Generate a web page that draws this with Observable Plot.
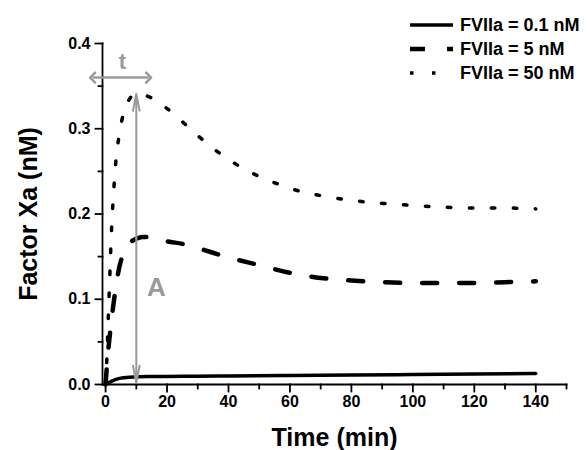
<!DOCTYPE html>
<html>
<head>
<meta charset="utf-8">
<script src="https://cdn.jsdelivr.net/npm/d3@7"></script>
<script src="https://cdn.jsdelivr.net/npm/@observablehq/plot@0.6"></script>
<style>
  body { margin: 0; }
  #wrap { position: relative; width: 587px; font-family: "Liberation Sans", Arial, sans-serif; }
  #legend { position: absolute; left: 408px; top: 13px; }
  .row { display: flex; align-items: center; height: 24px; }
  .row span { font-weight: bold; font-size: 18px; margin-left: 7px; color: #000; white-space: nowrap; }
</style>
</head>
<body>
<div id="wrap"></div>
<script>
// ---- data ----
const seriesNames = ["FVIIa = 0.1 nM", "FVIIa = 5 nM", "FVIIa = 50 nM"];

const time01 = [0, 1, 2, 3, 4, 5, 6, 8, 10, 15, 20, 30, 40, 60, 80, 100, 120, 140];
const fxa01  = [0, 0.002, 0.004, 0.0055, 0.0066, 0.0075, 0.008, 0.0086, 0.009, 0.0093, 0.0095, 0.0098, 0.010, 0.0105, 0.011, 0.0117, 0.0123, 0.0129];

const time5 = [0, 0.5, 1, 1.5, 2, 2.6, 3.5, 4.5, 5.5, 7, 8.5, 10, 12, 14, 17, 20, 25, 30, 40, 50, 60, 70, 80, 90, 100, 110, 120, 130, 140];
const fxa5  = [0, 0.025, 0.045, 0.062, 0.078, 0.095, 0.118, 0.138, 0.151, 0.162, 0.168, 0.171, 0.173, 0.173, 0.171, 0.168, 0.165, 0.160, 0.149, 0.140, 0.131, 0.125, 0.122, 0.120, 0.119, 0.119, 0.119, 0.120, 0.121];

const time50 = [0, 0.3, 0.6, 0.9, 1.2, 1.5, 1.8, 2.2, 2.7, 3.3, 4.2, 5.3, 6.5, 8, 10, 12, 15, 18, 22, 26, 30, 35, 40, 45, 50, 57, 64, 71, 78, 85, 92, 100, 110, 120, 130, 140];
const fxa50  = [0, 0.02, 0.05, 0.08, 0.11, 0.14, 0.17, 0.2, 0.23, 0.26, 0.287, 0.31, 0.325, 0.336, 0.341, 0.340, 0.336, 0.329, 0.318, 0.305, 0.292, 0.277, 0.264, 0.253, 0.244, 0.234, 0.226, 0.221, 0.217, 0.214, 0.212, 0.210, 0.208, 0.207, 0.207, 0.206];

const xMajorTicks = [0, 20, 40, 60, 80, 100, 120, 140];
const xMinorTicks = [10, 30, 50, 70, 90, 110, 130, 150];
const yMajorTicks = [0, 0.1, 0.2, 0.3, 0.4];
const yMinorTicks = [0.05, 0.15, 0.25, 0.35];

// annotations: time-to-peak "t" and amplitude "A"
const peakTime = [10];
const peakAmp = [0.341];
const ampBase = [0.002];
const tArrowFrom = [-4.2], tArrowTo = [14], tArrowLevel = [0.36];
const annoLabels = ["t", "A"];
const annoLabelX = [5.5, 16.5];
const annoLabelY = [0.378, 0.114];

// ---- layout ----
const W = 587, H = 450, mL = 102, mR = 21, mT = 43, mB = 66;
const xDomain = [-1, 150], yDomain = [0, 0.4];
const kx = (W - mL - mR) / (xDomain[1] - xDomain[0]);   // px per minute
const ky = (H - mT - mB) / (yDomain[1] - yDomain[0]);   // px per nM
const majorLen = 7, minorLen = 4;
const axisX0 = xDomain[0], axisY0 = yDomain[0];

// ---- build tables ----
const toRows = (ts, vs) => ts.map((t, i) => ({t, v: vs[i]}));
const s01 = toRows(time01, fxa01);
const s5 = toRows(time5, fxa5);
const s50 = toRows(time50, fxa50);
const gray = "#9a9a9a";

const styles = [
  {strokeWidth: 3.5, strokeDasharray: "none"},
  {strokeWidth: 4.5, strokeDasharray: "15,22"},
  {strokeWidth: 3.5, strokeDasharray: "3.5,18.5"}
];

const vArrow = peakTime.map((t, i) => ({t, top: peakAmp[i], bot: ampBase[i], mid: (peakAmp[i] + ampBase[i]) / 2}));
const hArrow = tArrowFrom.map((a, i) => ({x1: a, x2: tArrowTo[i], y: tArrowLevel[i]}));
const labels = annoLabels.map((s, i) => ({s, x: annoLabelX[i], y: annoLabelY[i]}));

// axis frame + tick segments as two-point polylines (keyed by k)
const segs = [];
const addSeg = (k, x1, y1, x2, y2) => { segs.push({k, x: x1, y: y1}, {k, x: x2, y: y2}); };
addSeg("xaxis", xDomain[0], axisY0, xDomain[1], axisY0);
addSeg("yaxis", axisX0, yDomain[0], axisX0, yDomain[1]);
xMajorTicks.forEach((x) => addSeg("xM" + x, x, axisY0, x, axisY0 - majorLen / ky));
xMinorTicks.forEach((x) => addSeg("xm" + x, x, axisY0, x, axisY0 - minorLen / ky));
yMajorTicks.forEach((y) => addSeg("yM" + y, axisX0, y, axisX0 - majorLen / kx, y));
yMinorTicks.forEach((y) => addSeg("ym" + y, axisX0, y, axisX0 - minorLen / kx, y));

const chart = Plot.plot({
  width: W,
  height: H,
  marginLeft: mL,
  marginRight: mR,
  marginTop: mT,
  marginBottom: mB,
  style: {fontFamily: "Liberation Sans, Arial, sans-serif"},
  x: {domain: xDomain, axis: null},
  y: {domain: yDomain, axis: null},
  marks: [
    // curves
    Plot.line(s01, {x: "t", y: "v", stroke: "#000", curve: "monotone-x", ...styles[0]}),
    Plot.line(s5, {x: "t", y: "v", stroke: "#000", curve: "monotone-x", ...styles[1]}),
    Plot.line(s50, {x: "t", y: "v", stroke: "#000", curve: "monotone-x", ...styles[2]}),
    // axis lines and ticks
    Plot.line(segs, {x: "x", y: "y", z: "k", stroke: "#000", strokeWidth: 1.8, strokeLinecap: "square"}),
    // annotations
    Plot.arrow(vArrow, {x1: "t", x2: "t", y1: "mid", y2: "top", stroke: gray, strokeWidth: 2, headLength: 13, headAngle: 22}),
    Plot.arrow(vArrow, {x1: "t", x2: "t", y1: "mid", y2: "bot", stroke: gray, strokeWidth: 2, headLength: 13, headAngle: 22}),
    Plot.link(hArrow, {x1: "x1", x2: "x2", y1: "y", y2: "y", stroke: gray, strokeWidth: 2.5, markerStart: "arrow-reverse", markerEnd: "arrow-reverse"}),
    Plot.text(labels, {x: "x", y: "y", text: "s", fill: gray, fontWeight: "bold", fontSize: (d) => d.s === "A" ? 26 : 22}),
    // tick labels
    Plot.axisX({ticks: xMajorTicks, tickSize: 0, tickPadding: majorLen + 4, fontSize: 16, fontWeight: "bold", tickFormat: d3.format("d"), label: null}),
    Plot.axisY({ticks: yMajorTicks, tickSize: 0, tickPadding: majorLen + 5, fontSize: 16, fontWeight: "bold", tickFormat: d3.format(".1f"), label: null}),
    // axis titles
    Plot.text(["Time (min)"], {frameAnchor: "bottom", dy: 53, lineAnchor: "middle", textAnchor: "middle", text: (d) => d, fontSize: 25, fontWeight: "bold", fill: "#000"}),
    Plot.text(["Factor Xa (nM)"], {frameAnchor: "left", dx: -74, rotate: -90, textAnchor: "middle", lineAnchor: "middle", text: (d) => d, fontSize: 25, fontWeight: "bold", fill: "#000"})
  ]
});

const wrap = document.getElementById("wrap");
wrap.appendChild(chart);

// legend (HTML overlay with small SVG samples)
const legend = document.createElement("div");
legend.id = "legend";
seriesNames.forEach((name, i) => {
  const row = document.createElement("div");
  row.className = "row";
  const svg = d3.create("svg").attr("width", 45).attr("height", 10);
  svg.append("line").attr("x1", 2).attr("x2", 45).attr("y1", 5).attr("y2", 5)
    .attr("stroke", "#000").attr("stroke-width", styles[i].strokeWidth)
    .attr("stroke-dasharray", styles[i].strokeDasharray);
  row.appendChild(svg.node());
  const span = document.createElement("span");
  span.textContent = name;
  row.appendChild(span);
  legend.appendChild(row);
});
wrap.appendChild(legend);
</script>
</body>
</html>
